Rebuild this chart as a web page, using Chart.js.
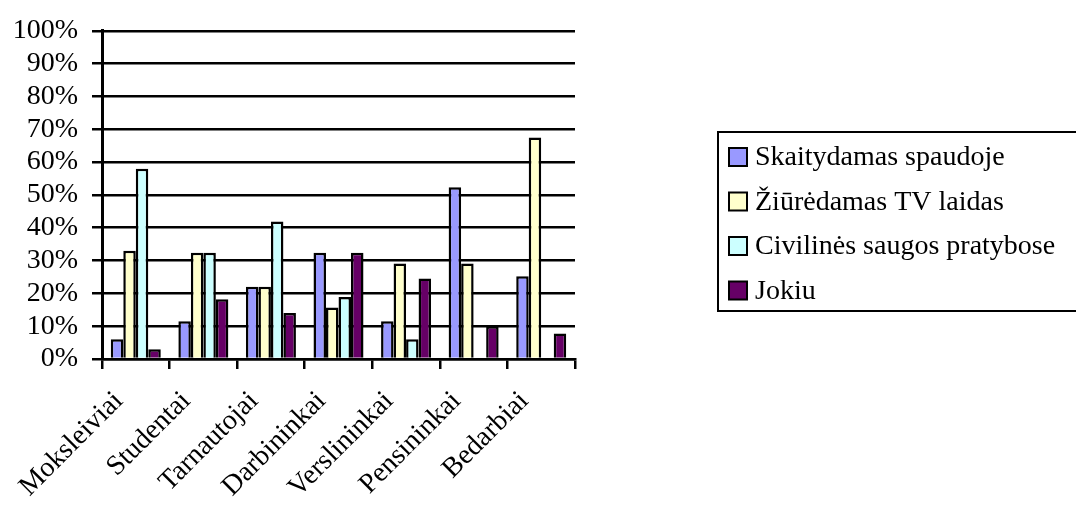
<!DOCTYPE html>
<html>
<head>
<meta charset="utf-8">
<script src="https://cdn.jsdelivr.net/npm/chart.js@4/dist/chart.umd.min.js"></script>
<style>
  html, body { margin: 0; padding: 0; background: #fff; }
  #wrap { width: 1076px; height: 507px; }
</style>
</head>
<body>
<div id="wrap"><canvas id="chart" width="1076" height="507"></canvas></div>
<script>
const categories = ['Moksleiviai','Studentai','Tarnautojai','Darbininkai','Verslininkai','Pensininkai','Bedarbiai']
const seriesNames = ['Skaitydamas spaudoje','Žiūrėdamas TV laidas','Civilinės saugos pratybose','Jokiu']
const skaitydamas = [6, 11.5, 22, 32.4, 11.5, 52.3, 25.2]
const ziuredamas = [33, 32.4, 22, 15.7, 29.1, 29.1, 67.5]
const civilines = [58, 32.4, 41.9, 18.9, 6, 0, 0]
const jokiu = [3, 18.2, 14, 32.4, 24.5, 10, 7.8]
const yTicks = [0,10,20,30,40,50,60,70,80,90,100]

const colors = ['#9999FF','#FFFFCC','#CCFFFF','#660066']
const font = "'Liberation Serif', 'Times New Roman', serif"

// legend drawn as a boxed list on the right, like the original
const boxLegend = {
    id:'boxLegend',
    afterDraw(chart){
        const ctx = chart.ctx
        ctx.save()
        ctx.lineWidth = 2
        ctx.strokeStyle = '#000'
        ctx.strokeRect(718, 132, 400, 179)
        ctx.font = '28px ' + font
        ctx.textBaseline = 'middle'
        chart.data.datasets.forEach((ds, i) => {
            const y = 157 + i * 44.5
            ctx.fillStyle = ds.backgroundColor
            ctx.fillRect(729, y - 9, 18, 18)
            ctx.strokeRect(729, y - 9, 18, 18)
            ctx.fillStyle = '#000'
            ctx.fillText(ds.label, 755, y + 1)
        })
        ctx.restore()
    }
}

const data = [skaitydamas, ziuredamas, civilines, jokiu]

new Chart(document.getElementById('chart').getContext('2d'),{
    type:'bar',
    data:{
        labels:categories,
        datasets:seriesNames.map((name, i) => ({
            label:name,
            data:data[i],
            backgroundColor:colors[i],
            borderColor:'#000',
            borderWidth:2.5,
            categoryPercentage:0.74,
            barPercentage:1
        }))
    },
    options:{
        responsive:false,
        animation:false,
        layout:{
            padding:{top:24, right:501, left:0, bottom:0}
        },
        scales:{
            x:{
                grid:{
                    drawOnChartArea:false,
                    drawTicks:true,
                    tickLength:10,
                    color:'#000',
                    lineWidth:2.5
                },
                border:{color:'#000', width:2.5},
                ticks:{
                    color:'#000',
                    font:{family:font, size:28},
                    maxRotation:45,
                    minRotation:45,
                    padding:16,
                    labelOffset:-17
                },
                afterFit(scale){ scale.height = 148 }
            },
            y:{
                min:0,
                max:100,
                afterBuildTicks(scale){ scale.ticks = yTicks.map(v => ({value:v})) },
                grid:{
                    color:'#000',
                    lineWidth:2.5,
                    tickLength:10
                },
                border:{color:'#000', width:3},
                ticks:{
                    color:'#000',
                    font:{family:font, size:28},
                    padding:14,
                    autoSkip:false,
                    callback:v => v + '%'
                },
                afterFit(scale){ scale.width = 102 }
            }
        },
        plugins:{
            legend:{display:false},
            tooltip:{enabled:false}
        }
    },
    plugins:[boxLegend]
})
</script>
</body>
</html>
